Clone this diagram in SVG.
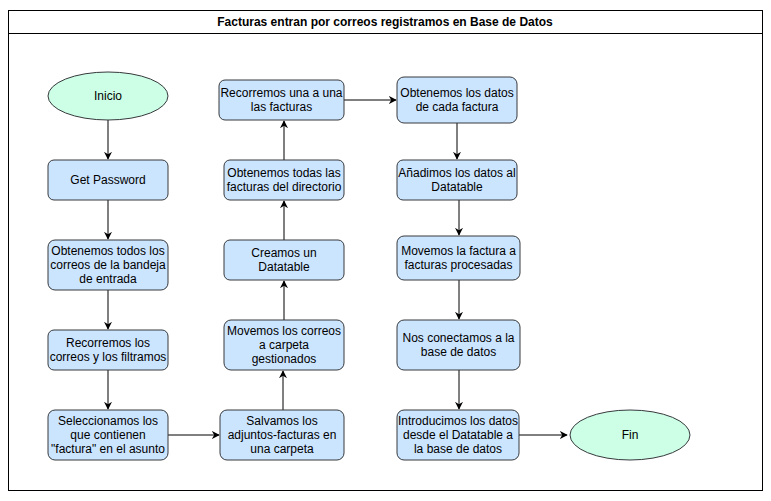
<svg xmlns="http://www.w3.org/2000/svg" width="771" height="501" viewBox="0 0 771 501">
<defs>
<style>
.frame{fill:#ffffff;stroke:#000000;stroke-width:1}
.box{fill:#cce5ff;stroke:#36393d;stroke-width:1}
.term{fill:#ccffe6;stroke:#36393d;stroke-width:1}
.t{font-family:"Liberation Sans",Arial,sans-serif;font-size:12px;fill:#000000;text-anchor:middle}
.title{font-family:"Liberation Sans",Arial,sans-serif;font-size:12px;font-weight:bold;fill:#000000;text-anchor:middle}
.edge{fill:none;stroke:#000000;stroke-width:1;marker-end:url(#arr)}
</style>
<marker id="arr" viewBox="0 0 10 10" refX="9" refY="5" markerWidth="8" markerHeight="8" markerUnits="userSpaceOnUse" orient="auto">
<path d="M0,0 L10,5 L0,10 L3,5 Z" fill="#000000"/>
</marker>
</defs>
<rect x="0" y="0" width="771" height="501" fill="#ffffff"/>
<g id="frame">
<rect class="frame" x="8.5" y="10.5" width="754" height="480"/>
<line x1="8.5" y1="33.5" x2="762.5" y2="33.5" stroke="#000000" stroke-width="1"/>
<text class="title" x="385" y="26">Facturas entran por correos registramos en Base de Datos</text>
</g>
<g id="connectors">
<path class="edge" d="M108,120 L108,159"/>
<path class="edge" d="M108,200 L108,239"/>
<path class="edge" d="M108,290 L108,329"/>
<path class="edge" d="M108,370 L108,409"/>
<path class="edge" d="M168,435 L219,435"/>
<path class="edge" d="M283,410 L283,371"/>
<path class="edge" d="M284,320 L284,281"/>
<path class="edge" d="M284,240 L284,201"/>
<path class="edge" d="M284,160 L284,121"/>
<path class="edge" d="M344,100 L396,100"/>
<path class="edge" d="M457,123 L457,159"/>
<path class="edge" d="M459,200 L459,235"/>
<path class="edge" d="M459,280 L459,319"/>
<path class="edge" d="M459,370 L459,409"/>
<path class="edge" d="M519,435 L567,435"/>
</g>
<g id="inicio">
<ellipse class="term" cx="108" cy="96" rx="60" ry="24"/>
<text class="t" x="108" y="100">Inicio</text>
</g>
<g id="get-password">
<rect class="box" x="48" y="160" width="120" height="40" rx="6"/>
<text class="t" x="108" y="184">Get Password</text>
</g>
<g id="obtenemos-correos">
<rect class="box" x="48" y="240" width="120" height="50" rx="7"/>
<text class="t" x="108" y="255">Obtenemos todos los</text>
<text class="t" x="108" y="269">correos de la bandeja</text>
<text class="t" x="108" y="283">de entrada</text>
</g>
<g id="recorremos-correos">
<rect class="box" x="48" y="330" width="120" height="40" rx="6"/>
<text class="t" x="108" y="347">Recorremos los</text>
<text class="t" x="108" y="361">correos y los filtramos</text>
</g>
<g id="seleccionamos">
<rect class="box" x="48" y="410" width="120" height="50" rx="7"/>
<text class="t" x="108" y="425">Seleccionamos los</text>
<text class="t" x="108" y="439">que contienen</text>
<text class="t" x="108" y="453">"factura" en el asunto</text>
</g>
<g id="salvamos">
<rect class="box" x="220" y="410" width="124" height="50" rx="7"/>
<text class="t" x="282" y="425">Salvamos los</text>
<text class="t" x="282" y="439">adjuntos-facturas en</text>
<text class="t" x="282" y="453">una carpeta</text>
</g>
<g id="movemos-correos">
<rect class="box" x="224" y="320" width="120" height="50" rx="7"/>
<text class="t" x="284" y="335">Movemos los correos</text>
<text class="t" x="284" y="349">a carpeta</text>
<text class="t" x="284" y="363">gestionados</text>
</g>
<g id="creamos-datatable">
<rect class="box" x="224" y="240" width="120" height="40" rx="6"/>
<text class="t" x="284" y="257">Creamos un</text>
<text class="t" x="284" y="271">Datatable</text>
</g>
<g id="obtenemos-facturas">
<rect class="box" x="224" y="160" width="120" height="40" rx="6"/>
<text class="t" x="284" y="177">Obtenemos todas las</text>
<text class="t" x="284" y="191">facturas del directorio</text>
</g>
<g id="recorremos-facturas">
<rect class="box" x="219" y="80" width="125" height="40" rx="6"/>
<text class="t" x="281.5" y="97">Recorremos una a una</text>
<text class="t" x="281.5" y="111">las facturas</text>
</g>
<g id="obtenemos-datos">
<rect class="box" x="397" y="77" width="120" height="46" rx="7"/>
<text class="t" x="457" y="97">Obtenemos los datos</text>
<text class="t" x="457" y="111">de cada factura</text>
</g>
<g id="anadimos">
<rect class="box" x="397" y="160" width="120" height="40" rx="6"/>
<text class="t" x="457" y="177">Añadimos los datos al</text>
<text class="t" x="457" y="191">Datatable</text>
</g>
<g id="movemos-factura">
<rect class="box" x="397" y="236" width="123" height="44" rx="7"/>
<text class="t" x="458.5" y="255">Movemos la factura a</text>
<text class="t" x="458.5" y="269">facturas procesadas</text>
</g>
<g id="nos-conectamos">
<rect class="box" x="397" y="320" width="123" height="50" rx="7"/>
<text class="t" x="458.5" y="342">Nos conectamos a la</text>
<text class="t" x="458.5" y="356">base de datos</text>
</g>
<g id="introducimos">
<rect class="box" x="397" y="410" width="122" height="50" rx="7"/>
<text class="t" x="458" y="425">Introducimos los datos</text>
<text class="t" x="458" y="439">desde el Datatable a</text>
<text class="t" x="458" y="453">la base de datos</text>
</g>
<g id="fin">
<ellipse class="term" cx="630" cy="435" rx="60" ry="25"/>
<text class="t" x="630" y="439">Fin</text>
</g>
</svg>
